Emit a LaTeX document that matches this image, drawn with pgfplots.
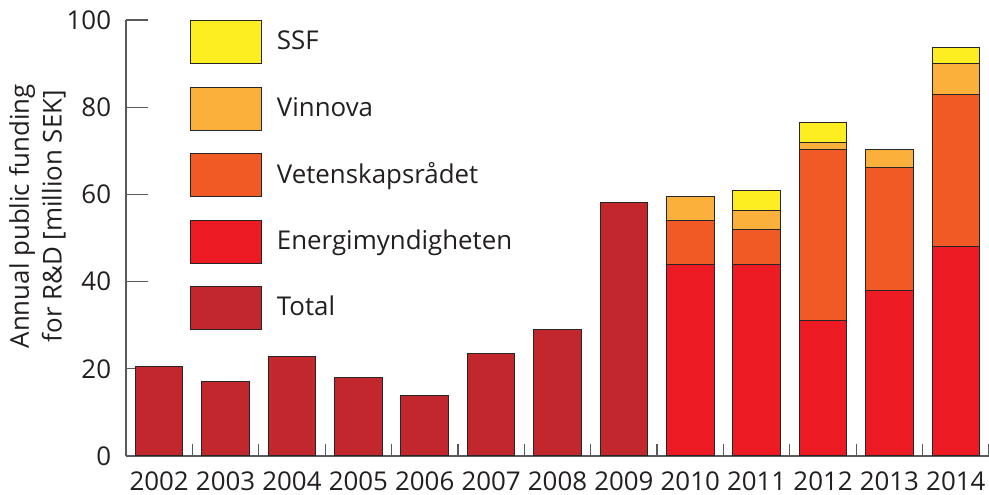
\documentclass[border=0pt]{standalone}
\usepackage{pgfplots}
\pgfplotsset{compat=1.18}
\usepackage{pgfplotstable}
\usepackage{fontspec}
\setmainfont{Open Sans}
\definecolor{cTotal}{HTML}{C1272D}
\definecolor{cEnergi}{HTML}{ED1C24}
\definecolor{cVet}{HTML}{F15A24}
\definecolor{cVinn}{HTML}{FBB03B}
\definecolor{cSSF}{HTML}{FCEE21}
\definecolor{axgray}{HTML}{58595B}
\definecolor{txt}{HTML}{231F20}
\pgfplotstableread{
year total energi vet vinn ssf
2002 20.6 0 0 0 0
2003 17.1 0 0 0 0
2004 22.9 0 0 0 0
2005 18.1 0 0 0 0
2006 13.9 0 0 0 0
2007 23.4 0 0 0 0
2008 28.9 0 0 0 0
2009 58.2 0 0 0 0
2010 0 44.0 10.0 5.6 0
2011 0 44.0 8.0 4.3 4.5
2012 0 31.1 39.2 1.7 4.6
2013 0 38.0 28.2 4.1 0
2014 0 48.0 35.0 7.1 3.5
}\data
\pgfplotstableread{
x tick
2002.5 2.75
2003.5 2.75
2004.5 2.75
2005.5 2.75
2006.5 2.75
2007.5 2.75
2008.5 2.75
2009.5 2.75
2010.5 2.75
2011.5 2.75
2012.5 2.75
2013.5 2.75
2014.5 2.75
}\ticktab
\begin{document}
\fontsize{19.4}{24.5}\selectfont
\begin{tikzpicture}
\begin{axis}[
  scale only axis,
  width=647.25pt, height=327pt,
  xmin=2001.5, xmax=2014.5,
  ymin=0, ymax=100,
  axis x line=bottom, axis y line=left,
  axis line style={-, draw=axgray, line width=0.9pt},
  ybar stacked, bar width=0.717,
  tick align=inside,
  major tick length=9pt,
  tick style={draw=axgray, line width=0.9pt},
  ytick={0,20,...,100},
  ytick style={/pgfplots/major tick length=16.5pt},
  yticklabel style={inner sep=0pt, xshift=-11pt, text=txt},
  /pgf/number format/assume math mode=true,
  xtick={2002.5,2003.5,2004.5,2005.5,2006.5,2007.5,2008.5,2009.5,2010.5,2011.5,2012.5,2013.5,2014.5},
  xticklabels={2002,2003,2004,2005,2006,2007,2008,2009,2010,2011,2012,2013,2014},
  xticklabel style={inner sep=0pt, xshift=-24.9pt, yshift=-11.5pt, text=txt},
  ylabel={Annual public funding\\for R\&D [million SEK]},
  every axis y label/.style={at={(rel axis cs:-0.0695,0.55)}, rotate=90, anchor=south, align=center, text=txt, inner sep=0pt},
  reverse legend,
  legend image code/.code={\draw[#1, line width=0.75pt] (0pt,-16.1pt) rectangle (53.25pt,16.1pt);},
  legend style={draw=none, fill=none, inner sep=0pt, at={(rel axis cs:0.0742,1)}, anchor=north west, row sep=16.9pt, column sep=11pt, nodes={text=txt, inner sep=0pt}},
  legend cell align=left,
  every axis plot/.append style={draw=black!85, line width=0.75pt},
]
\addplot[fill=cTotal, draw=black!85] table[x=year, y=total] {\data};
\addplot[fill=cEnergi, draw=black!85] table[x=year, y=energi] {\data};
\addplot[fill=cVet, draw=black!85] table[x=year, y=vet] {\data};
\addplot[fill=cVinn, draw=black!85] table[x=year, y=vinn] {\data};
\addplot[fill=cSSF, draw=black!85] table[x=year, y=ssf] {\data};
\legend{Total,Energimyndigheten,Vetenskapsrådet,Vinnova,SSF}
\end{axis}
\begin{axis}[
  scale only axis,
  width=647.25pt, height=327pt,
  xmin=2001.5, xmax=2014.5,
  ymin=0, ymax=100,
  hide axis,
]
\addplot[ycomb, draw=axgray, line width=0.9pt, mark=none] table[x=x, y=tick] {\ticktab};
\end{axis}
\pgfresetboundingbox
\useasboundingbox (-94.5pt,-29.25pt) rectangle (647.25pt,342pt);
\end{tikzpicture}
\end{document}
